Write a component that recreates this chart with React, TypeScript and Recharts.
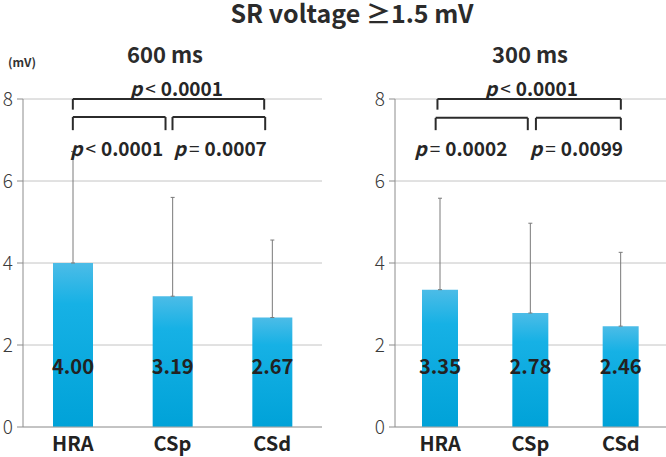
import {
  BarChart,
  Bar,
  XAxis,
  YAxis,
  CartesianGrid,
  ErrorBar,
  LabelList,
  ReferenceLine,
  ReferenceDot,
} from 'recharts';

const FONT = '"Noto Sans CJK JP", "Noto Sans", sans-serif';

const categories = ['HRA', 'CSp', 'CSd'];
const catPositions = [0, 1, 2];
const yTicks = [0, 2, 4, 6, 8];

const means600 = [4.0, 3.19, 2.67];
const sd600 = [2.72, 2.41, 1.89];
const means300 = [3.35, 2.78, 2.46];
const sd300 = [2.23, 2.19, 1.8];

// brackets: x range in category units, y of top bar and of the feet
const brackets600 = [
  { from: 0, to: 1.92, top: 8, foot: 7.74 },
  { from: 0, to: 0.93, top: 7.56, foot: 7.24 },
  { from: 1.0, to: 1.93, top: 7.56, foot: 7.24 },
];
const brackets300 = [
  { from: -0.03, to: 2.0, top: 8, foot: 7.74 },
  { from: -0.05, to: 0.97, top: 7.54, foot: 7.24 },
  { from: 1.06, to: 2.0, top: 7.54, foot: 7.24 },
];

const pLabels600 = [
  { x: 1.04, y: 8.29, op: '<', val: '0.0001' },
  { x: 0.44, y: 6.84, op: '<', val: '0.0001' },
  { x: 1.48, y: 6.84, op: '=', val: '0.0007' },
];
const pLabels300 = [
  { x: 1.01, y: 8.29, op: '<', val: '0.0001' },
  { x: 0.23, y: 6.84, op: '=', val: '0.0002' },
  { x: 1.51, y: 6.84, op: '=', val: '0.0099' },
];

type Bracket = { from: number; to: number; top: number; foot: number };
type PLabel = { x: number; y: number; op: string; val: string };

function PText(props: any) {
  const { viewBox, op, val } = props;
  const cx = viewBox.x + (viewBox.width || 0) / 2;
  const cy = viewBox.y + (viewBox.height || 0) / 2;
  return (
    <text
      x={cx}
      y={cy}
      textAnchor="middle"
      dominantBaseline="central"
      fontFamily={FONT}
      fontSize={19}
      fontWeight={700}
      fill="#262626"
    >
      <tspan fontStyle="italic">p</tspan>
      <tspan dx={3} fontWeight={400}>{op}</tspan>
      <tspan dx={5}>{val}</tspan>
    </text>
  );
}

function ValueLabel(props: any) {
  const { x, y, width, height, value } = props;
  return (
    <text
      x={x + width / 2}
      y={y + height - 62}
      textAnchor="middle"
      dominantBaseline="central"
      fontFamily={FONT}
      fontSize={20}
      fontWeight={700}
      fill="#222"
    >
      {Number(value).toFixed(2)}
    </text>
  );
}

function Panel({
  id,
  means,
  sds,
  brackets,
  pLabels,
  width,
  yAxisWidth,
  rightMargin,
  barSize,
}: {
  id: string;
  means: number[];
  sds: number[];
  brackets: Bracket[];
  pLabels: PLabel[];
  width: number;
  yAxisWidth: number;
  rightMargin: number;
  barSize: number;
}) {
  const data = categories.map((name, i) => ({
    name,
    pos: catPositions[i],
    mean: means[i],
    err: [0, sds[i]],
  }));
  const line = { stroke: '#2b2b2b', strokeWidth: 2, ifOverflow: 'visible' as const };

  return (
    <BarChart
      width={width}
      height={457}
      data={data}
      margin={{ top: 99, right: rightMargin, bottom: 0, left: 0 }}
    >
      <defs>
        <linearGradient id={`grad-${id}`} x1="0" y1="0" x2="0" y2="1">
          <stop offset="0%" stopColor="#4cbce7" />
          <stop offset="25%" stopColor="#16b1e5" />
          <stop offset="100%" stopColor="#00a2d8" />
        </linearGradient>
      </defs>
      <CartesianGrid vertical={false} stroke="#c4c4c4" />
      <XAxis
        dataKey="pos"
        type="number"
        domain={[-0.5, 2.5]}
        ticks={catPositions}
        tickFormatter={(v: number) => categories[v]}
        axisLine={{ stroke: '#a6a6a6' }}
        tickLine={false}
        tickSize={0}
        tickMargin={10}
        height={30}
        tick={{ fill: '#222', fontSize: 20, fontWeight: 700, fontFamily: FONT }}
      />
      <YAxis
        type="number"
        domain={[0, 8]}
        ticks={yTicks}
        width={yAxisWidth}
        axisLine={{ stroke: '#8c8c8c' }}
        tickLine={{ stroke: '#8c8c8c' }}
        tickSize={6}
        tickMargin={4}
        tick={{ fill: '#3a3a3a', fontSize: 19, fontWeight: 300, fontFamily: FONT }}
      />
      <Bar dataKey="mean" fill={`url(#grad-${id})`} barSize={barSize} isAnimationActive={false}>
        <ErrorBar dataKey="err" direction="y" width={2} stroke="#7a7a7a" strokeWidth={1} />
        <LabelList dataKey="mean" content={<ValueLabel />} />
      </Bar>
      {brackets.map((b, i) => [
        <ReferenceLine
          key={`h${i}`}
          segment={[
            { x: b.from, y: b.top },
            { x: b.to, y: b.top },
          ]}
          {...line}
        />,
        <ReferenceLine
          key={`l${i}`}
          segment={[
            { x: b.from, y: b.top },
            { x: b.from, y: b.foot },
          ]}
          {...line}
        />,
        <ReferenceLine
          key={`r${i}`}
          segment={[
            { x: b.to, y: b.top },
            { x: b.to, y: b.foot },
          ]}
          {...line}
        />,
      ])}
      {pLabels.map((p, i) => (
        <ReferenceDot
          key={`p${i}`}
          x={p.x}
          y={p.y}
          r={0}
          stroke="none"
          fill="none"
          ifOverflow="visible"
          label={<PText op={p.op} val={p.val} />}
        />
      ))}
    </BarChart>
  );
}

export default function App() {
  return (
    <div
      style={{
        position: 'absolute',
        left: 0,
        top: 0,
        width: 666,
        height: 457,
        background: '#fff',
        fontFamily: FONT,
        overflow: 'hidden',
      }}
    >
      <svg width={666} height={457} style={{ position: 'absolute', left: 0, top: 0 }}>
        <text x={352} y={23} textAnchor="middle" fontFamily={FONT} fontSize={25} fontWeight={700} fill="#2b2b2b">
          SR voltage ≥1.5 mV
        </text>
        <text x={165} y={63} textAnchor="middle" fontFamily={FONT} fontSize={22} fontWeight={700} fill="#2b2b2b">
          600 ms
        </text>
        <text x={530} y={63} textAnchor="middle" fontFamily={FONT} fontSize={22} fontWeight={700} fill="#2b2b2b">
          300 ms
        </text>
        <text x={8} y={67} fontFamily={FONT} fontSize={12} fontWeight={700} fill="#333">
          (mV)
        </text>
      </svg>
      <div style={{ position: 'absolute', left: 0, top: 0 }}>
        <Panel
          id="600"
          means={means600}
          sds={sd600}
          brackets={brackets600}
          pLabels={pLabels600}
          width={340}
          yAxisWidth={23}
          rightMargin={18}
          barSize={40}
        />
      </div>
      <div style={{ position: 'absolute', left: 340, top: 0 }}>
        <Panel
          id="300"
          means={means300}
          sds={sd300}
          brackets={brackets300}
          pLabels={pLabels300}
          width={326}
          yAxisWidth={55}
          rightMargin={0}
          barSize={36}
        />
      </div>
    </div>
  );
}
